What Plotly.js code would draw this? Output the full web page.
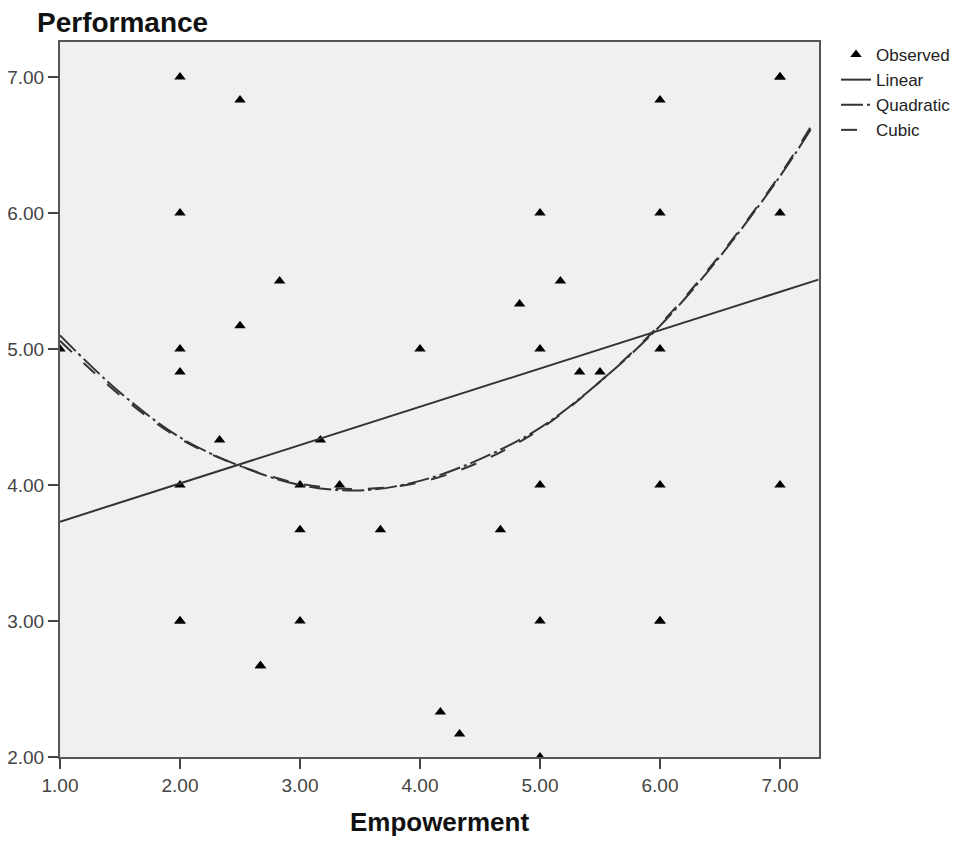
<!DOCTYPE html>
<html>
<head>
<meta charset="utf-8">
<script src="https://cdn.plot.ly/plotly-3.0.1.min.js"></script>
<style>html,body{margin:0;padding:0;background:#fff;}#chart{width:966px;height:841px;}</style>
</head>
<body>
<div id="chart"></div>
<script>
// Observed points (Empowerment, Performance)
var obsX = [1,2,2,2,2,2,2,2,2.33,2.5,2.5,2.67,2.67,2.83,3,3,3,3.17,3.33,3.67,4,4.17,4.33,4.67,4.83,5,5,5,5,5,5.17,5.33,5.5,6,6,6,6,6,6,7,7,7,7];
var obsY = [5,7,6,5,4.83,4,3,3,4.33,6.83,5.17,2.67,2.67,5.5,4,3.67,3,4.33,4,3.67,5,2.33,2.17,3.67,5.33,6,5,4,3,2,5.5,4.83,4.83,6.83,6,5,4,3,3,7,7,6,4];

// Fit lines
var linX = [1, 7.32];
var linY = [3.73, 5.51];

var quadX = [1.0, 1.5, 2.0, 2.5, 3.0, 3.5, 4.0, 4.5, 5.0, 5.5, 6.0, 6.5, 7.0, 7.26];
var quadY = [5.10, 4.68, 4.35, 4.14, 4.00, 3.96, 4.03, 4.19, 4.42, 4.76, 5.17, 5.68, 6.27, 6.62];

var cubX = [1.0, 1.5, 2.0, 2.5, 3.0, 3.5, 4.0, 4.5, 5.0, 5.5, 6.0, 6.5, 7.0, 7.26];
var cubY = [5.06, 4.66, 4.34, 4.14, 4.01, 3.97, 4.02, 4.17, 4.41, 4.76, 5.18, 5.69, 6.28, 6.64];

var xTicks = [1, 2, 3, 4, 5, 6, 7];
var xTickText = ["1.00", "2.00", "3.00", "4.00", "5.00", "6.00", "7.00"];
var yTicks = [2, 3, 4, 5, 6, 7];
var yTickText = ["2.00", "3.00", "4.00", "5.00", "6.00", "7.00"];

var FONT = "Liberation Sans, Arial, sans-serif";

var traces = [
  {x: obsX, y: obsY, mode: "markers", type: "scatter", name: "Observed",
   marker: {symbol: "triangle-up", size: 10, color: "#000"}},
  {x: linX, y: linY, mode: "lines", type: "scatter", name: "Linear",
   line: {color: "#333", width: 2}},
  {x: quadX, y: quadY, mode: "lines", type: "scatter", name: "Quadratic",
   line: {color: "#333", width: 2, shape: "spline", dash: "22px,4px,3px,4px"}},
  {x: cubX, y: cubY, mode: "lines", type: "scatter", name: "Cubic",
   line: {color: "#333", width: 2, shape: "spline", dash: "16px,16px"}}
];

var layout = {
  width: 966, height: 841,
  margin: {l: 60, r: 147, t: 42, b: 84},
  paper_bgcolor: "#fff",
  plot_bgcolor: "#f0f0f0",
  font: {family: FONT, size: 18, color: "#333"},
  showlegend: true,
  title: {text: "<b>Performance</b>", font: {family: FONT, size: 28, color: "#111"},
          x: 37/966, xref: "container", xanchor: "left",
          y: 1 - 22/841, yref: "container", yanchor: "middle"},
  xaxis: {range: [1, 7.325], tickmode: "array", tickvals: xTicks, ticktext: xTickText,
          ticks: "outside", ticklen: 10, tickwidth: 2, tickcolor: "#444",
          showline: true, linecolor: "#555", linewidth: 2, mirror: true,
          showgrid: false, zeroline: false, automargin: false,
          tickfont: {family: FONT, size: 19, color: "#444"},
          title: {text: "<b>Empowerment</b>", font: {family: FONT, size: 26, color: "#111"}, standoff: 18}},
  yaxis: {range: [2, 7.257], tickmode: "array", tickvals: yTicks, ticktext: yTickText,
          ticks: "outside", ticklen: 10, tickwidth: 2, tickcolor: "#444",
          showline: true, linecolor: "#555", linewidth: 2, mirror: true,
          showgrid: false, zeroline: false, automargin: false,
          tickfont: {family: FONT, size: 19, color: "#444"}},
  legend: {xref: "container", x: 836/966, xanchor: "left",
           yref: "container", y: 1 - 37/841, yanchor: "top",
           font: {family: FONT, size: 17, color: "#222"},
           bgcolor: "rgba(0,0,0,0)", tracegroupgap: 0}
};

Plotly.newPlot("chart", traces, layout, {displayModeBar: false, staticPlot: true});
</script>
</body>
</html>
